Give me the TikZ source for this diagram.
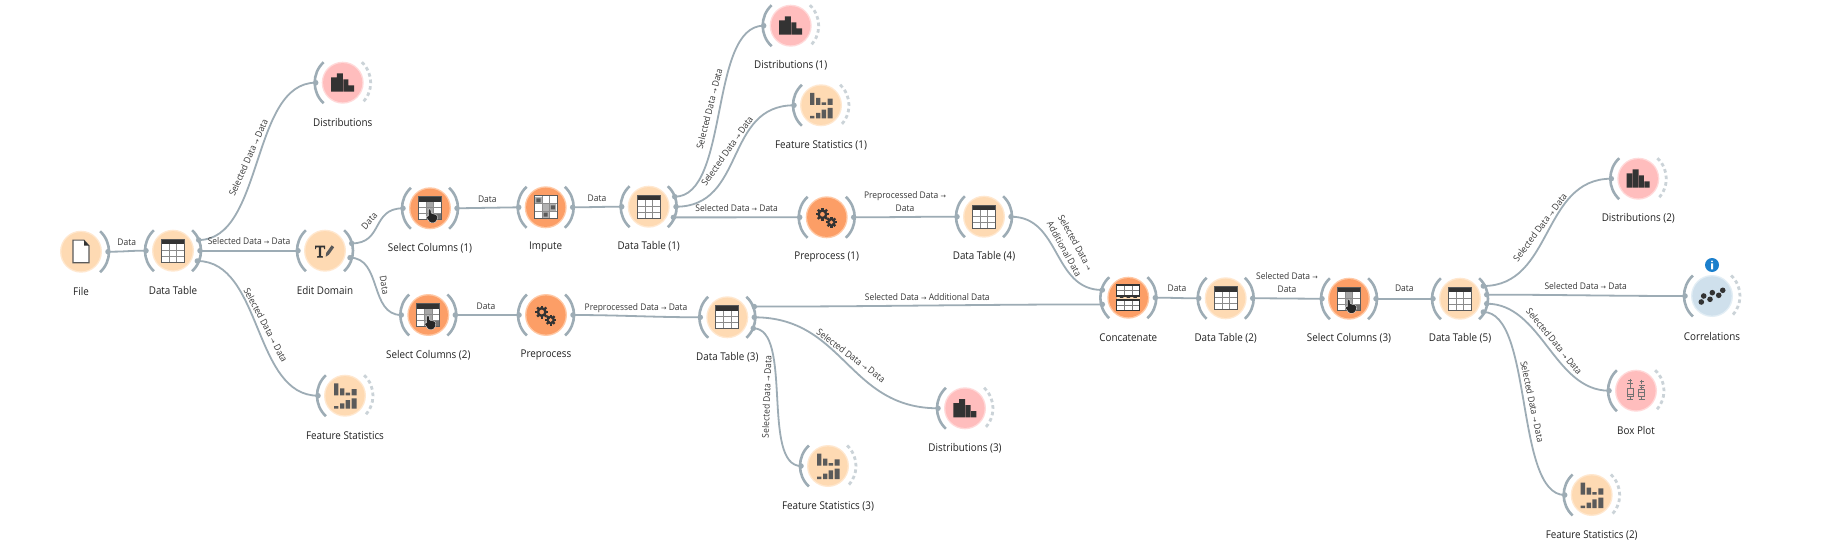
\documentclass[tikz,border=0pt]{standalone}
\usepackage{fontspec}
\setmainfont[FakeStretch=0.92]{Open Sans}
\newfontfamily\arrowf{DejaVu Sans}
\definecolor{lomain}{HTML}{FEDAB3}\definecolor{lorim}{HTML}{FFE8D0}
\definecolor{dpmain}{HTML}{FC9E66}\definecolor{dprim}{HTML}{FFC9A6}
\definecolor{pkmain}{HTML}{FFBDBD}\definecolor{pkrim}{HTML}{FFDADA}
\definecolor{blmain}{HTML}{CFE0EC}\definecolor{blrim}{HTML}{E3EEF5}
\definecolor{linkc}{HTML}{9DACB5}\definecolor{dashc}{HTML}{CBD3D8}
\definecolor{ink}{HTML}{333333}\definecolor{midink}{HTML}{5A5A5A}
\definecolor{txt}{HTML}{222222}\definecolor{infoc}{HTML}{1B7FCC}
\tikzset{
  widget/.style={circle,minimum size=42pt,inner sep=0pt,outer sep=0pt,draw=none},
  title/.style={font=\fontsize{10.7}{13}\selectfont,text=txt,inner sep=0pt},
  small/.style={font=\fontsize{9.2}{13}\selectfont,text=txt!90!white,inner sep=0pt,align=center},
  link/.style={draw=linkc,line width=1.8pt},
  chan/.style={draw=linkc,line width=2.6pt},
  dchan/.style={draw=dashc,line width=2.8pt,dash pattern=on 3.6pt off 3pt},
  portdot/.style={circle,fill=linkc,minimum size=5.5pt,inner sep=0pt,outer sep=0pt},
}
% channel arcs
\newcommand\larc[1]{\draw[chan,shift={(#1.center)}] (-19.1,-20.5) .. controls (-30.95,-9.45) and (-30.95,9.45) .. (-19.1,20.5);}
\newcommand\rarc[1]{\draw[chan,shift={(#1.center)}] (19.1,-20.5) .. controls (30.95,-9.45) and (30.95,9.45) .. (19.1,20.5);}
\newcommand\darc[1]{\draw[dchan,shift={(#1.center)}] (19.1,-20.5) .. controls (30.95,-9.45) and (30.95,9.45) .. (19.1,20.5);}
% widget: name, x, y, colour, icon, title
\newcommand\wgt[6]{%
  \node[widget,fill=#4rim] (#1) at (#2,#3) {};
  \fill[fill=#4main] (#1.center) circle[radius=19.6pt];
  \begin{scope}[shift={(#1.center)}]#5\end{scope}
  \node[title] (#1-t) at ([shift={(0,40)}]#1.center) {#6};
}
\newcommand\port[4]{\node[portdot] (#1-#2) at ([shift={(#3,#4)}]#1.center) {};}
\newcommand\lnk[3]{\draw[link] (#1.center) .. controls +(#3,0) and +(-#3,0) .. (#2.center);}
\newcommand\lab[5]{\node[small,rotate=#4] (#1) at (#2,#3) {#5};}
\newcommand\ar{{\arrowf\fontsize{6.5}{6.5}\selectfont →}}
% icons
\newcommand\tableicon{%
  \fill[white] (-11.5,-11.5) rectangle (11.5,11.5);
  \draw[midink!70!white,line width=.8pt] (-3.8,-7) -- (-3.8,11.5) (3.8,-7) -- (3.8,11.5) (-11.5,-.5) -- (11.5,-.5) (-11.5,5.5) -- (11.5,5.5);
  \fill[ink] (-11.5,-11.5) rectangle (11.5,-6.5);
  \draw[midink,line width=1.1pt] (-11.5,-11.5) rectangle (11.5,11.5);
}
\newcommand\fileicon{%
  \fill[white] (-8,-11.5) -- (3,-11.5) -- (8,-6) -- (8,11) -- (-8,11) -- cycle;
  \draw[midink,line width=1.1pt] (-8,-11.5) -- (3,-11.5) -- (8,-6) -- (8,11) -- (-8,11) -- cycle;
  \fill[ink] (3,-11.5) -- (8,-6) -- (3,-6) -- cycle;
}
\newcommand\disticon{%
  \fill[ink] (-11.7,-5.3) rectangle (-6.2,9) (-5.8,-9.3) rectangle (.2,9) (.7,-3.3) rectangle (5.6,9) (6,2.7) rectangle (11.4,9);
}
\newcommand\fsicon{%
  \fill[midink] (-11,-12.3) rectangle (-6.7,-.3) (-5,-7.3) rectangle (-.7,-.3) (.7,-3) rectangle (5,-.3) (6.7,-6.7) rectangle (11.7,-.3);
  \fill[midink] (-11,10.5) rectangle (-6.7,13) (-5,7.7) rectangle (-.7,13) (.7,4.3) rectangle (5,13) (6.7,2.7) rectangle (11.7,13);
}
\newcommand\scicon{%
  \fill[white] (-11.5,-11.5) rectangle (11.5,11.5);
  \fill[black!35] (-3.8,-6.5) rectangle (3.8,11.5);
  \fill[midink!85!white] (3.8,5.5) rectangle (11.5,11.5);
  \draw[midink!70!white,line width=.8pt] (-3.8,-7) -- (-3.8,11.5) (3.8,-7) -- (3.8,11.5) (-11.5,-.5) -- (11.5,-.5) (-11.5,5.5) -- (11.5,5.5);
  \fill[ink] (-11.5,-11.5) rectangle (11.5,-6.5);
  \draw[midink,line width=1.1pt] (-11.5,-11.5) rectangle (11.5,11.5);
  \fill[black!85,draw=white,line width=.3pt,rounded corners=1pt] (-1.5,.5) -- (.8,.5) -- (1,5) -- (7,6.5) -- (7.5,11) -- (5,14.5) -- (0,14.5) -- (-3.8,9) -- (-3.2,7.5) -- (-1.5,8.5) -- cycle;
}
\newcommand\imputeicon{%
  \fill[white] (-11.5,-11.5) rectangle (11.5,11.5);
  \fill[black!30] (-10.5,-10.5) rectangle (-3.5,-3.5) (-3.5,-3.5) rectangle (3.5,3.5) (3.5,-3.5) rectangle (10.5,3.5) (-3.5,3.5) rectangle (3.5,10.5);
  \draw[black!45,line width=.6pt] (-3.8,-11.5) -- (-3.8,11.5) (3.8,-11.5) -- (3.8,11.5) (-11.5,-3.8) -- (11.5,-3.8) (-11.5,3.8) -- (11.5,3.8);
  \fill[midink] (-9.3,-8.8) rectangle (-5,-4.8) (5.2,-2) rectangle (9.5,2) (-2,5.3) rectangle (2,9.3);
  \draw[midink,line width=1.1pt] (-11.5,-11.5) rectangle (11.5,11.5);
}
\newcommand\gear[3]{%
  \foreach \a in {0,45,90,135}{\fill[ink,shift={(#1,#2)},rotate=\a] (-1.2,-#3) rectangle (1.2,#3);}
  \fill[ink] (#1,#2) circle[radius=.78*#3 pt];
  \fill[dpmain] (#1,#2) circle[radius=.36*#3 pt];
}
\newcommand\ppicon{\gear{-4.3}{-3}{6.5}\gear{4.7}{5}{5.5}}
\newcommand\tedicon{%
  \fill[ink] (-10,-5) -- (.2,-5) -- (.2,-1.5) -- (-.8,-1.5) -- (-1.3,-3.4) -- (-3.8,-3.4) -- (-3.8,5.4) -- (-2.2,5.6) -- (-2.2,6.8) -- (-7.8,6.8) -- (-7.8,5.6) -- (-6.2,5.4) -- (-6.2,-3.4) -- (-8.7,-3.4) -- (-9.2,-1.5) -- (-10,-1.5) -- cycle;
  \fill[midink] (1.2,2.2) -- (6.6,-5.4) -- (9.2,-3.5) -- (3.8,4.1) -- (.7,6) -- cycle;
}
\newcommand\concaticon{%
  \fill[white] (-11.5,-12.7) rectangle (11.5,-1.7) (-11.5,2.3) rectangle (11.5,13);
  \draw[midink!80!white,line width=.7pt] (-3.8,-12.7) -- (-3.8,-1.7) (3.8,-12.7) -- (3.8,-1.7) (-11.5,-7.2) -- (11.5,-7.2) (-3.8,2.3) -- (-3.8,13) (3.8,2.3) -- (3.8,13) (-11.5,7.7) -- (11.5,7.7);
  \draw[ink,line width=1.2pt] (-11.5,-12.7) rectangle (11.5,-1.7) (-11.5,2.3) rectangle (11.5,13);
  \fill[lomain] (-11.5,-1) rectangle (11.5,1.6);
  \fill[ink] (-8.5,-2.6) rectangle (-5,.2) (-1.8,-2.6) rectangle (1.8,.2) (5,-2.6) rectangle (8.5,.2);
}
\newcommand\boxicon{%
  \begin{scope}[draw=black!55,line width=.9pt]
  \draw (-6,-12) -- (-6,-8) (-8,-10) -- (-4,-10) (-9,-7.3) -- (-3,-7.3) (-6,-7.3) -- (-6,-2.3) (-9,9) -- (-3,9) (-6,6) -- (-6,9);
  \draw (-9,-2.3) rectangle (-3,6) (-9,3.5) -- (-3,3.5);
  \draw (5.5,-11) -- (5.5,-7) (3.5,-9) -- (7.5,-9) (2.5,-5.5) -- (8.5,-5.5) (5.5,-5.5) -- (5.5,-1) (2.5,8.5) -- (8.5,8.5) (5.5,5.5) -- (5.5,8.5) (3.5,-3.5) -- (7.5,-3.5);
  \draw (2.5,-1) rectangle (8.5,5.5) (2.5,2) -- (8.5,2);
  \end{scope}
}
\newcommand\corricon{%
  \fill[ink] (-10.7,6) circle[radius=2.8pt] (-8.3,0) circle[radius=2.8pt] (-2,3.3) circle[radius=2.8pt] (.3,-3.3) circle[radius=2.8pt] (6.7,-.7) circle[radius=2.8pt] (10.7,-5.7) circle[radius=2.8pt];
}
\begin{document}
\begin{tikzpicture}[x=1pt,y=-1pt]
\useasboundingbox[fill=white] (0,0) rectangle (1823,556);
% widgets
\wgt{file}{81}{251.7}{lo}{\fileicon}{File}
\wgt{dt}{173}{250.7}{lo}{\tableicon}{Data Table}
\wgt{dist}{342.7}{82.7}{pk}{\disticon}{Distributions}
\wgt{ed}{325}{250.7}{lo}{\tedicon}{Edit Domain}
\wgt{fs}{345}{395.7}{lo}{\fsicon}{Feature Statistics}
\wgt{sca}{430}{208.3}{dp}{\scicon}{Select Columns (1)}
\wgt{scb}{428.3}{315}{dp}{\scicon}{Select Columns (2)}
\wgt{imp}{545.7}{207.3}{dp}{\imputeicon}{Impute}
\wgt{dta}{648.7}{206.7}{lo}{\tableicon}{Data Table (1)}
\wgt{dista}{790.7}{25.7}{pk}{\disticon}{Distributions (1)}
\wgt{fsa}{821}{105.3}{lo}{\fsicon}{Feature Statistics (1)}
\wgt{ppa}{826.7}{217.3}{dp}{\ppicon}{Preprocess (1)}
\wgt{dtd}{984}{216.7}{lo}{\tableicon}{Data Table (4)}
\wgt{pp}{546}{315}{dp}{\ppicon}{Preprocess}
\wgt{dtc}{727.3}{317.3}{lo}{\tableicon}{Data Table (3)}
\wgt{distc}{965}{408.3}{pk}{\disticon}{Distributions (3)}
\wgt{fsc}{828}{466}{lo}{\fsicon}{Feature Statistics (3)}
\wgt{conc}{1128.3}{297.7}{dp}{\concaticon}{Concatenate}
\wgt{dtb}{1225.7}{298.3}{lo}{\tableicon}{Data Table (2)}
\wgt{scc}{1349}{298.7}{dp}{\scicon}{Select Columns (3)}
\wgt{dte}{1460}{298.7}{lo}{\tableicon}{Data Table (5)}
\wgt{distb}{1638.3}{178.7}{pk}{\disticon}{Distributions (2)}
\wgt{corr}{1712}{296}{bl}{\corricon}{Correlations}
\wgt{box}{1636}{390.7}{pk}{\boxicon}{Box Plot}
\wgt{fsb}{1591.7}{495}{lo}{\fsicon}{Feature Statistics (2)}
% info badge
\node[circle,fill=infoc,minimum size=14pt,inner sep=0pt] (info) at ([shift={(0,-31)}]corr.center) {};
\fill[white,shift={(info.center)}] (0,-3.6) circle[radius=1pt] (-1,-1.6) rectangle (1,4.4);
% channels
\foreach \n in {dt,dist,ed,fs,sca,scb,imp,dta,dista,fsa,ppa,dtd,pp,dtc,distc,fsc,conc,dtb,scc,dte,distb,corr,box,fsb}{\larc{\n}}
\foreach \n in {file,dt,ed,sca,scb,imp,dta,ppa,dtd,pp,dtc,conc,dtb,scc,dte}{\rarc{\n}}
\foreach \n in {dist,fs,dista,fsa,distc,fsc,distb,corr,box,fsb}{\darc{\n}}
% ports: inputs
\foreach \n in {dt,dist,ed,fs,sca,scb,imp,dta,dista,fsa,ppa,dtd,pp,dtc,distc,fsc,dtb,scc,dte,distb,corr,box,fsb}{\port{\n}{i}{-27}{0}}
\port{conc}{ia}{-26}{-7.7}\port{conc}{ib}{-26}{6.7}
% ports: outputs
\foreach \n in {file,sca,scb,imp,ppa,dtd,pp,conc,dtb,scc}{\port{\n}{o}{27}{0}}
\port{dt}{a}{25.7}{-10.7}\port{dt}{b}{27}{0}\port{dt}{c}{24.3}{10.3}
\port{ed}{a}{26.7}{-7.3}\port{ed}{b}{25}{7}
\port{dta}{a}{26}{-10}\port{dta}{b}{27.3}{0}\port{dta}{c}{24.7}{10.7}
\port{dtc}{a}{27}{-10.7}\port{dtc}{b}{27}{0}\port{dtc}{c}{26}{11}
\port{dte}{a}{23.3}{-12.7}\port{dte}{b}{26.7}{-4}\port{dte}{c}{26.7}{5}\port{dte}{d}{23.3}{13.3}
% links
\lnk{file-o}{dt-i}{20}
\lnk{dt-a}{dist-i}{65}
\lnk{dt-b}{ed-i}{40}
\lnk{dt-c}{fs-i}{65}
\lnk{ed-a}{sca-i}{32}
\lnk{ed-b}{scb-i}{32}
\lnk{sca-o}{imp-i}{30}
\lnk{scb-o}{pp-i}{30}
\lnk{imp-o}{dta-i}{20}
\lnk{dta-a}{dista-i}{55}
\lnk{dta-b}{fsa-i}{70}
\lnk{dta-c}{ppa-i}{50}
\lnk{ppa-o}{dtd-i}{45}
\lnk{dtd-o}{conc-ia}{50}
\lnk{pp-o}{dtc-i}{45}
\lnk{dtc-a}{conc-ib}{120}
\lnk{dtc-b}{distc-i}{90}
\lnk{dtc-c}{fsc-i}{40}
\lnk{conc-o}{dtb-i}{20}
\lnk{dtb-o}{scc-i}{30}
\lnk{scc-o}{dte-i}{20}
\lnk{dte-a}{distb-i}{70}
\lnk{dte-b}{corr-i}{80}
\lnk{dte-c}{box-i}{55}
\lnk{dte-d}{fsb-i}{50}
% link labels
\lab{l1}{126.7}{242}{0}{Data}
\lab{l2}{248.3}{157.7}{66}{Selected Data \ar{} Data}
\lab{l3}{249}{240.7}{0}{Selected Data \ar{} Data}
\lab{l4}{265.7}{325}{-62}{Selected Data \ar{} Data}
\lab{l5}{369.3}{221}{49}{Data}
\lab{l6}{384.3}{285}{-80}{Data}
\lab{l7}{487.3}{199}{0}{Data}
\lab{l8}{597}{198}{0}{Data}
\lab{l9}{709.3}{108.7}{76}{Selected Data \ar{} Data}
\lab{l10}{727}{151}{55}{Selected Data \ar{} Data}
\lab{l11}{736.7}{208}{0}{Selected Data \ar{} Data}
\lab{l12}{905}{201.7}{0}{Preprocessed Data \ar{}\\Data}
\lab{l13}{1070}{245.7}{-61}{Selected Data \ar{}\\Additional Data}
\lab{l14}{486}{306}{0}{Data}
\lab{l15}{636}{308}{0}{Preprocessed Data \ar{} Data}
\lab{l16}{927.3}{296.7}{0}{Selected Data \ar{} Additional Data}
\lab{l17}{851}{355.7}{-36.5}{Selected Data \ar{} Data}
\lab{l18}{766.7}{396.7}{88}{Selected Data \ar{} Data}
\lab{l19}{1177}{288.7}{0}{Data}
\lab{l20}{1287}{283}{0}{Selected Data \ar{}\\Data}
\lab{l21}{1404.3}{288.7}{0}{Data}
\lab{l22}{1540}{227.3}{53}{Selected Data \ar{} Data}
\lab{l23}{1585.7}{286}{0}{Selected Data \ar{} Data}
\lab{l24}{1554.3}{341.3}{-51}{Selected Data \ar{} Data}
\lab{l25}{1532.3}{402}{-78}{Selected Data \ar{} Data}
\end{tikzpicture}
\end{document}
